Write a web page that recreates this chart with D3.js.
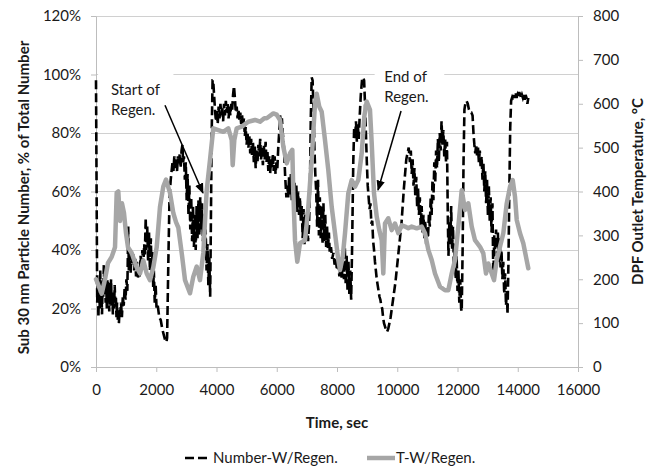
<!DOCTYPE html>
<html><head><meta charset="utf-8">
<script src="https://cdn.jsdelivr.net/npm/d3@7"></script>
<style>
body{margin:0;background:#fff;}
svg{display:block;font-family:Lato,"Liberation Sans",sans-serif;}
</style></head><body>
<svg id="chart" width="657" height="466"></svg>
<script>
// ---------- DATA ----------
const xTicks = [0,2000,4000,6000,8000,10000,12000,14000,16000];
const leftTicks = [0,20,40,60,80,100,120];
const rightTicks = [0,100,200,300,400,500,600,700,800];
const seriesNames = ["Number-W/Regen.", "T-W/Regen."];
const xTitle = "Time, sec";
const leftTitle = "Sub 30 nm Particle Number, % of Total Number";
const rightTitle = "DPF Outlet Temperature, °C";
const noteStart = ["Start of","Regen."];
const noteEnd = ["End of","Regen."];

// Sub 30 nm number fraction (%) vs time (s)
const numTime = [0,20,40,60,80,100,120,140,160,180,200,220,240,260,280,300,320,340,360,380,400,420,440,460,480,500,520,540,560,580,600,620,640,660,680,700,720,740,760,780,
800,830,860,890,920,950,980,1010,1040,1070,1090,1120,1150,1180,1210,1240,1270,1300,1330,1360,1390,1420,1450,1480,1510,1540,1570,1600,
1620,1650,1670,1700,1730,1760,1790,1820,1850,1870,1900,1920,1950,1980,2010,2050,2100,2150,2200,2250,2300,2340,2360,2400,2440,2480,2520,
2540,2570,2600,2630,2660,2690,2720,2750,2780,2810,2840,2870,2890,2920,2950,2980,3010,3040,3070,3100,3130,3160,3190,3220,3250,3280,3310,3340,3370,3400,3430,3460,3490,3520,3550,3580,3610,3640,3670,3700,3730,3760,3790,3810,3840,3870,3890,
3920,3950,3980,4010,4040,4070,4100,4130,4160,4190,4220,4250,4280,4310,4340,4370,4400,4430,4460,4490,4520,4550,4580,4610,4640,4670,4700,4730,4760,4790,4820,4850,4880,4910,4940,4970,5000,5030,5060,5090,5120,5150,5180,5210,5240,5270,5300,5330,5360,5390,5420,5450,5480,5510,5540,5570,5600,5630,5660,5690,5720,5750,5780,5810,5840,5870,5900,5930,5960,5990,6020,6050,6080,6110,6140,6170,6200,
6240,6280,6320,6350,6380,6410,6440,6470,6500,6530,6560,6590,6620,6650,6680,6710,6740,6770,6800,6830,6860,6890,6920,6950,6980,7010,7040,7070,7100,7130,7160,7190,7220,7250,
7280,7310,7340,7370,7400,7430,7460,7490,7520,7550,7580,7610,7640,7670,7700,7730,7760,7800,7840,7880,7920,7960,8000,8040,8080,8120,8160,8200,8230,8260,8290,8320,8350,8380,8410,8440,8470,8500,8540,8570,
8600,8630,8660,8690,8720,8750,8790,8830,8870,8900,8930,8960,8990,9020,9050,9080,9110,9140,9170,9200,9230,9260,9290,9320,9350,9380,9410,9440,9470,9500,9530,9560,9590,9620,9660,9700,9740,9780,9820,9860,9900,9940,9980,10020,10060,10100,10140,10180,10220,10260,10300,10340,10380,
10420,10450,10480,10510,10540,10570,10600,10630,10660,10690,10720,10750,10780,10810,10840,10870,10900,10930,10960,10990,11020,11050,11080,11110,11140,11170,11200,11230,11260,11290,11320,11350,11380,11410,11440,11470,11500,11530,11560,11590,11620,11650,11680,11700,11730,11760,11790,11820,11850,11880,11910,11940,11970,12000,12030,12060,12090,12120,12140,12170,12200,12230,
12260,12300,12340,12380,12420,12460,12500,12530,12560,12590,12620,12650,12680,12710,12740,12770,12800,12830,12860,12890,12920,12950,12980,13010,13040,13070,13100,13130,13160,13190,13220,13250,13280,13310,13340,13370,13400,13430,13460,13490,13520,13550,13580,13610,13640,13660,13690,13720,13750,13780,
13810,13840,13870,13900,13930,13960,13990,14020,14050,14080,14110,14140,14170,14200,14230,14260,14290,14320,14350];
const numPct = [98,60,22,30,17,28,20,33,22,26,18,30,24,35,25,31,22,28,20,30,22,27,19,29,23,30,21,26,18,25,20,28,22,24,17,22,16,20,15,19,
18,22,17,24,21,27,23,30,26,48,33,38,32,40,35,39,33,37,31,36,30,34,31,38,34,40,35,42,
38,51,40,48,36,46,33,44,30,40,27,33,22,28,20,21,17,16,13,11,9,8.5,10,35,58,64,68,
70,67,72,68,71,67,72,69,73,68,74,76,70,72,64,70,57,66,52,62,47,58,43,55,41,52,40,55,44,57,45,58,47,56,43,52,38,47,33,42,28,38,24,45,80,98,98,
93,88,84,88,83,89,85,90,86,89,84,90,86,91,87,90,85,89,86,90,88,93,96,92,87,89,85,88,84,87,83,86,82,85,79,82,76,80,75,79,73,78,72,77,70,76,68,74,70,76,72,78,71,75,69,76,71,77,70,74,67,72,66,71,68,73,67,72,66,70,68,75,80,86,83,85,80,
75,65,58,62,58,65,59,66,57,62,55,63,54,62,53,60,52,58,50,55,44,54,42,52,44,53,43,48,60,85,99,98,88,75,
66,60,48,64,45,58,44,55,42,56,43,52,41,48,40,46,39,41,37,39,35,37,33,35,31,34,30,38,30,41,28,38,26,36,25,33,23,40,70,82,
78,84,77,83,78,85,93,98,99,98,90,80,70,62,58,54,56,49,50,43,40,36,33,30,28,26,24,23,21,20,17,15,14,13,12,13,15,17,20,23,26,29,33,37,41,45,49,55,61,66,71,73,75,
70,74,66,71,62,68,58,65,55,61,52,58,48,55,46,52,44,50,42,48,44,52,48,58,52,64,57,70,63,74,68,78,70,80,74,84,76,81,72,78,70,77,50,38,50,42,55,40,48,35,42,30,38,26,33,22,30,20,19,40,70,88,
90,91,90,88,87,87,86,80,76,73,76,72,75,70,74,68,72,64,70,60,67,56,64,52,62,50,58,46,56,30,45,40,47,38,46,36,44,34,40,30,36,25,32,21,26,18,35,60,82,91,
92,91,93,92,94,92,93,92,94,93,92,93,92,93,91,93,92,90,92];

// DPF outlet temperature (°C) vs time (s)
const tempTime = [0,60,189,299,398,521,631,687,740,797,863,929,996,1062,1185,1351,1461,1570,1683,1793,1902,2015,2124,2234,2324,2456,2566,2656,2732,2845,2955,3120,3230,3343,3452,3562,3675,3784,3894,4060,4226,4392,4505,4538,4591,4671,4837,5056,5278,5444,5587,5667,5886,5999,6108,6218,6331,6440,6517,6550,6606,6682,6772,6938,7048,7160,7270,7326,7413,7492,7602,7711,7824,7934,8043,8100,8189,8266,8375,8488,8598,8707,8820,8906,8986,9095,9152,9228,9318,9404,9484,9537,9593,9703,9816,9925,10035,10148,10257,10367,10480,10646,10812,10922,11031,11144,11253,11419,11585,11695,11808,11917,12027,12140,12249,12359,12472,12581,12747,12857,12946,13023,13136,13212,13302,13411,13521,13634,13743,13833,13909,13966,14075,14184,14274,14350];
const tempC = [200,190,167,200,237,251,273,397,400,333,373,351,305,273,260,227,213,243,213,198,227,273,365,411,427,397,351,330,318,260,198,168,206,229,198,260,403,472,544,540,536,544,517,460,517,544,548,559,563,559,567,567,578,575,563,502,464,487,495,396,289,240,282,289,365,472,601,623,593,582,517,449,365,305,244,221,251,305,396,426,411,426,487,571,605,586,510,396,343,312,289,213,327,339,312,327,305,323,320,316,320,316,320,305,267,244,213,183,175,175,213,244,320,403,358,373,320,289,274,259,213,236,213,198,244,274,305,373,411,426,388,335,305,282,251,225];

// ---------- CHART ----------
const svg = d3.select("#chart");
const L = 96, R = 578, T = 16, B = 367;
const x = d3.scaleLinear().domain([0,16000]).range([L,R]);
const yL = d3.scaleLinear().domain([0,120]).range([B,T]);
const yR = d3.scaleLinear().domain([0,800]).range([B,T]);
const axisColor = "#bdbdbd", gridColor = "#d0d0d0", textColor = "#1a1a1a";

// gridlines
svg.append("g").selectAll("line").data(leftTicks.filter(d=>d>0)).join("line")
  .attr("x1",L).attr("x2",R).attr("y1",d=>yL(d)).attr("y2",d=>yL(d))
  .attr("stroke",gridColor).attr("stroke-width",1).attr("shape-rendering","crispEdges");

function styleAxis(g){
  g.select(".domain").attr("stroke",axisColor).attr("stroke-width",1);
  g.selectAll(".tick line").attr("stroke",axisColor);
  g.selectAll(".tick text").attr("fill",textColor).style("font-size","15px").style("font-family","Lato,'Liberation Sans',sans-serif");
}
svg.append("g").attr("transform",`translate(${L},0)`)
  .call(d3.axisLeft(yL).tickValues(leftTicks).tickFormat(d=>d+"%").tickSize(5).tickSizeOuter(0).tickPadding(10))
  .call(styleAxis);
svg.append("g").attr("transform",`translate(${R},0)`)
  .call(d3.axisRight(yR).tickValues(rightTicks).tickFormat(d3.format("d")).tickSize(5).tickSizeOuter(0).tickPadding(10))
  .call(styleAxis);
svg.append("g").attr("transform",`translate(0,${B})`)
  .call(d3.axisBottom(x).tickValues(xTicks).tickFormat(d3.format("d")).tickSize(5).tickSizeOuter(0).tickPadding(12))
  .call(styleAxis);

// series
const numData = numTime.map((t,i)=>[t,numPct[i]]);
const tempData = tempTime.map((t,i)=>[t,tempC[i]]);
svg.append("path").datum(numData)
  .attr("d", d3.line().x(d=>x(d[0])).y(d=>yL(d[1])))
  .attr("fill","none").attr("stroke","#000").attr("stroke-width",2.6)
  .attr("stroke-dasharray","9,4");
svg.append("path").datum(tempData)
  .attr("d", d3.line().x(d=>x(d[0])).y(d=>yR(d[1])))
  .attr("fill","none").attr("stroke","#a6a6a6").attr("stroke-width",4.5)
  .attr("stroke-linejoin","round").attr("stroke-linecap","round");

// axis titles
svg.append("text").attr("transform",`translate(${(L+R)/2},428)`).attr("text-anchor","middle")
  .attr("font-weight","bold").attr("font-size",15).attr("fill",textColor).text(xTitle);
svg.append("text").attr("transform",`translate(29,${(T+B)/2 + 6}) rotate(-90)`).attr("text-anchor","middle")
  .attr("font-weight","bold").attr("font-size",15).attr("fill",textColor).text(leftTitle);
svg.append("text").attr("transform",`translate(643,${(T+B)/2}) rotate(-90)`).attr("text-anchor","middle")
  .attr("font-weight","bold").attr("font-size",15).attr("fill",textColor).text(rightTitle);

// annotations
const defs = svg.append("defs");
defs.append("marker").attr("id","arr").attr("viewBox","0 0 10 10").attr("refX",9).attr("refY",5)
  .attr("markerWidth",7).attr("markerHeight",7).attr("orient","auto")
  .append("path").attr("d","M0,1 L10,5 L0,9 z").attr("fill","#000");

function note(lines, boxT0, boxT1, boxP0, boxP1, textT, textP, arrow){
  const g = svg.append("g");
  g.append("rect").attr("x",x(boxT0)).attr("y",yL(boxP1)).attr("width",x(boxT1)-x(boxT0))
    .attr("height",yL(boxP0)-yL(boxP1)).attr("fill","#fff");
  lines.forEach((s,i)=>g.append("text").attr("x",x(textT)).attr("y",yL(textP)+i*20)
    .attr("font-size",15).attr("fill",textColor).text(s));
  g.append("line").attr("x1",x(arrow[0])).attr("y1",yL(arrow[1])).attr("x2",x(arrow[2])).attr("y2",yL(arrow[3]))
    .attr("stroke","#000").attr("stroke-width",1.5).attr("marker-end","url(#arr)");
}
note(noteStart, 70, 2570, 84, 101.5, 500, 93, [2290,89.5,3550,59.5]);
note(noteEnd, 9250, 11560, 90, 103, 9570, 97.3, [10126,87.5,9362,60.5]);

// legend
const lg = svg.append("g");
lg.append("line").attr("x1",185).attr("x2",208).attr("y1",458).attr("y2",458)
  .attr("stroke","#000").attr("stroke-width",2.6).attr("stroke-dasharray","9,4");
lg.append("text").attr("x",213).attr("y",463).attr("font-size",15).attr("fill",textColor).text(seriesNames[0]);
lg.append("line").attr("x1",367).attr("x2",395).attr("y1",458).attr("y2",458)
  .attr("stroke","#a6a6a6").attr("stroke-width",4.5);
lg.append("text").attr("x",396).attr("y",463).attr("font-size",15).attr("fill",textColor).text(seriesNames[1]);
</script>
</body></html>
